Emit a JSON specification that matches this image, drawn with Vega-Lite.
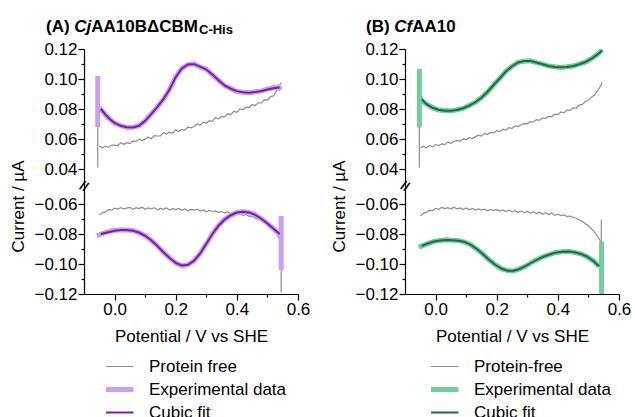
{
"$schema": "https://vega.github.io/schema/vega-lite/v6.json",
"autosize": {"type": "pad"},
"padding": {"left": 9, "top": 17, "right": 0, "bottom": 0},
"bounds": "flush",
"spacing": 107,
"config": {
  "font": "Liberation Sans",
  "view": {"stroke": null},
  "axis": {"grid": false, "labelOverlap": false, "domainColor": "#000", "tickColor": "#000", "labelColor": "#000", "titleColor": "#000", "labelFontSize": 17, "titleFontSize": 17, "titleFontWeight": "normal", "domainWidth": 1.2, "tickWidth": 1.2},
  "legend": {"labelFontSize": 17, "labelColor": "#000"}
},
"resolve": {"scale": {"color": "independent"}},
"hconcat": [
{
  "width": 214, "height": 245,
  "data": {"values": [
{"series":"Protein free","branch":"su","x":-0.055,"y":0.041},{"series":"Protein free","branch":"su","x":-0.055,"y":0.080},
{"series":"Protein free","branch":"sl","x":0.545,"y":-0.083},{"series":"Protein free","branch":"sl","x":0.545,"y":-0.119},
{"series":"Protein free","branch":"up","x":-0.05,"y":0.0553},{"series":"Protein free","branch":"up","x":-0.04,"y":0.0542},{"series":"Protein free","branch":"up","x":-0.03,"y":0.0553},{"series":"Protein free","branch":"up","x":-0.02,"y":0.0544},{"series":"Protein free","branch":"up","x":-0.01,"y":0.0560},{"series":"Protein free","branch":"up","x":0.0,"y":0.0559},{"series":"Protein free","branch":"up","x":0.01,"y":0.0555},{"series":"Protein free","branch":"up","x":0.02,"y":0.0575},{"series":"Protein free","branch":"up","x":0.03,"y":0.0565},{"series":"Protein free","branch":"up","x":0.04,"y":0.0575},{"series":"Protein free","branch":"up","x":0.05,"y":0.0569},{"series":"Protein free","branch":"up","x":0.06,"y":0.0587},{"series":"Protein free","branch":"up","x":0.07,"y":0.0582},{"series":"Protein free","branch":"up","x":0.08,"y":0.0599},{"series":"Protein free","branch":"up","x":0.09,"y":0.0590},{"series":"Protein free","branch":"up","x":0.10,"y":0.0599},{"series":"Protein free","branch":"up","x":0.11,"y":0.0613},{"series":"Protein free","branch":"up","x":0.12,"y":0.0602},{"series":"Protein free","branch":"up","x":0.13,"y":0.0622},{"series":"Protein free","branch":"up","x":0.14,"y":0.0620},{"series":"Protein free","branch":"up","x":0.15,"y":0.0620},{"series":"Protein free","branch":"up","x":0.16,"y":0.0642},{"series":"Protein free","branch":"up","x":0.17,"y":0.0633},{"series":"Protein free","branch":"up","x":0.18,"y":0.0646},{"series":"Protein free","branch":"up","x":0.19,"y":0.0639},{"series":"Protein free","branch":"up","x":0.20,"y":0.0661},{"series":"Protein free","branch":"up","x":0.21,"y":0.0650},{"series":"Protein free","branch":"up","x":0.22,"y":0.0664},{"series":"Protein free","branch":"up","x":0.23,"y":0.0659},{"series":"Protein free","branch":"up","x":0.24,"y":0.0680},{"series":"Protein free","branch":"up","x":0.25,"y":0.0675},{"series":"Protein free","branch":"up","x":0.26,"y":0.0683},{"series":"Protein free","branch":"up","x":0.27,"y":0.0700},{"series":"Protein free","branch":"up","x":0.28,"y":0.0691},{"series":"Protein free","branch":"up","x":0.29,"y":0.0712},{"series":"Protein free","branch":"up","x":0.30,"y":0.0706},{"series":"Protein free","branch":"up","x":0.31,"y":0.0722},{"series":"Protein free","branch":"up","x":0.32,"y":0.0718},{"series":"Protein free","branch":"up","x":0.33,"y":0.0743},{"series":"Protein free","branch":"up","x":0.34,"y":0.0735},{"series":"Protein free","branch":"up","x":0.35,"y":0.0749},{"series":"Protein free","branch":"up","x":0.36,"y":0.0748},{"series":"Protein free","branch":"up","x":0.37,"y":0.0769},{"series":"Protein free","branch":"up","x":0.38,"y":0.0762},{"series":"Protein free","branch":"up","x":0.39,"y":0.0785},{"series":"Protein free","branch":"up","x":0.40,"y":0.0778},{"series":"Protein free","branch":"up","x":0.41,"y":0.0801},{"series":"Protein free","branch":"up","x":0.42,"y":0.0795},{"series":"Protein free","branch":"up","x":0.43,"y":0.0814},{"series":"Protein free","branch":"up","x":0.44,"y":0.0810},{"series":"Protein free","branch":"up","x":0.45,"y":0.0830},{"series":"Protein free","branch":"up","x":0.46,"y":0.0823},{"series":"Protein free","branch":"up","x":0.47,"y":0.0841},{"series":"Protein free","branch":"up","x":0.48,"y":0.0840},{"series":"Protein free","branch":"up","x":0.49,"y":0.0862},{"series":"Protein free","branch":"up","x":0.50,"y":0.0860},{"series":"Protein free","branch":"up","x":0.51,"y":0.0883},{"series":"Protein free","branch":"up","x":0.52,"y":0.0887},{"series":"Protein free","branch":"up","x":0.53,"y":0.0925},{"series":"Protein free","branch":"up","x":0.54,"y":0.0958},{"series":"Protein free","branch":"up","x":0.545,"y":0.0975},
{"series":"Protein free","branch":"lo","x":-0.05,"y":-0.0674},{"series":"Protein free","branch":"lo","x":-0.04,"y":-0.0658},{"series":"Protein free","branch":"lo","x":-0.03,"y":-0.0653},{"series":"Protein free","branch":"lo","x":-0.02,"y":-0.0638},{"series":"Protein free","branch":"lo","x":-0.01,"y":-0.0641},{"series":"Protein free","branch":"lo","x":0.0,"y":-0.0628},{"series":"Protein free","branch":"lo","x":0.01,"y":-0.0634},{"series":"Protein free","branch":"lo","x":0.02,"y":-0.0624},{"series":"Protein free","branch":"lo","x":0.03,"y":-0.0633},{"series":"Protein free","branch":"lo","x":0.04,"y":-0.0627},{"series":"Protein free","branch":"lo","x":0.05,"y":-0.0622},{"series":"Protein free","branch":"lo","x":0.06,"y":-0.0636},{"series":"Protein free","branch":"lo","x":0.07,"y":-0.0625},{"series":"Protein free","branch":"lo","x":0.08,"y":-0.0631},{"series":"Protein free","branch":"lo","x":0.09,"y":-0.0621},{"series":"Protein free","branch":"lo","x":0.10,"y":-0.0635},{"series":"Protein free","branch":"lo","x":0.11,"y":-0.0626},{"series":"Protein free","branch":"lo","x":0.12,"y":-0.0633},{"series":"Protein free","branch":"lo","x":0.13,"y":-0.0624},{"series":"Protein free","branch":"lo","x":0.14,"y":-0.0638},{"series":"Protein free","branch":"lo","x":0.15,"y":-0.0629},{"series":"Protein free","branch":"lo","x":0.16,"y":-0.0636},{"series":"Protein free","branch":"lo","x":0.17,"y":-0.0627},{"series":"Protein free","branch":"lo","x":0.18,"y":-0.0640},{"series":"Protein free","branch":"lo","x":0.19,"y":-0.0631},{"series":"Protein free","branch":"lo","x":0.20,"y":-0.0637},{"series":"Protein free","branch":"lo","x":0.21,"y":-0.0630},{"series":"Protein free","branch":"lo","x":0.22,"y":-0.0642},{"series":"Protein free","branch":"lo","x":0.23,"y":-0.0633},{"series":"Protein free","branch":"lo","x":0.24,"y":-0.0645},{"series":"Protein free","branch":"lo","x":0.25,"y":-0.0636},{"series":"Protein free","branch":"lo","x":0.26,"y":-0.0641},{"series":"Protein free","branch":"lo","x":0.27,"y":-0.0635},{"series":"Protein free","branch":"lo","x":0.28,"y":-0.0647},{"series":"Protein free","branch":"lo","x":0.29,"y":-0.0640},{"series":"Protein free","branch":"lo","x":0.30,"y":-0.0652},{"series":"Protein free","branch":"lo","x":0.31,"y":-0.0643},{"series":"Protein free","branch":"lo","x":0.32,"y":-0.0650},{"series":"Protein free","branch":"lo","x":0.33,"y":-0.0646},{"series":"Protein free","branch":"lo","x":0.34,"y":-0.0657},{"series":"Protein free","branch":"lo","x":0.35,"y":-0.0649},{"series":"Protein free","branch":"lo","x":0.36,"y":-0.0661},{"series":"Protein free","branch":"lo","x":0.37,"y":-0.0652},{"series":"Protein free","branch":"lo","x":0.38,"y":-0.0665},{"series":"Protein free","branch":"lo","x":0.39,"y":-0.0658},{"series":"Protein free","branch":"lo","x":0.40,"y":-0.0670},{"series":"Protein free","branch":"lo","x":0.41,"y":-0.0663},{"series":"Protein free","branch":"lo","x":0.42,"y":-0.0676},{"series":"Protein free","branch":"lo","x":0.43,"y":-0.0669},{"series":"Protein free","branch":"lo","x":0.44,"y":-0.0683},{"series":"Protein free","branch":"lo","x":0.45,"y":-0.0680},{"series":"Protein free","branch":"lo","x":0.46,"y":-0.0695},{"series":"Protein free","branch":"lo","x":0.47,"y":-0.0697},{"series":"Protein free","branch":"lo","x":0.48,"y":-0.0712},{"series":"Protein free","branch":"lo","x":0.49,"y":-0.0718},{"series":"Protein free","branch":"lo","x":0.50,"y":-0.0735},{"series":"Protein free","branch":"lo","x":0.51,"y":-0.0748},{"series":"Protein free","branch":"lo","x":0.52,"y":-0.0770},{"series":"Protein free","branch":"lo","x":0.53,"y":-0.0792},{"series":"Protein free","branch":"lo","x":0.54,"y":-0.0835},
{"series":"Experimental data","branch":"su","x":-0.055,"y":0.068},{"series":"Experimental data","branch":"su","x":-0.055,"y":0.102},
{"series":"Experimental data","branch":"sl","x":0.545,"y":-0.068},{"series":"Experimental data","branch":"sl","x":0.545,"y":-0.104},
{"series":"Experimental data","branch":"up","x":-0.05,"y":0.0812},{"series":"Experimental data","branch":"up","x":-0.04,"y":0.0785},{"series":"Experimental data","branch":"up","x":-0.03,"y":0.0762},{"series":"Experimental data","branch":"up","x":-0.015,"y":0.0731},{"series":"Experimental data","branch":"up","x":0.0,"y":0.0706},{"series":"Experimental data","branch":"up","x":0.02,"y":0.0690},{"series":"Experimental data","branch":"up","x":0.04,"y":0.0676},{"series":"Experimental data","branch":"up","x":0.06,"y":0.0678},{"series":"Experimental data","branch":"up","x":0.08,"y":0.0688},{"series":"Experimental data","branch":"up","x":0.10,"y":0.0720},{"series":"Experimental data","branch":"up","x":0.12,"y":0.0767},{"series":"Experimental data","branch":"up","x":0.14,"y":0.0813},{"series":"Experimental data","branch":"up","x":0.16,"y":0.0866},{"series":"Experimental data","branch":"up","x":0.18,"y":0.0932},{"series":"Experimental data","branch":"up","x":0.20,"y":0.1014},{"series":"Experimental data","branch":"up","x":0.22,"y":0.1071},{"series":"Experimental data","branch":"up","x":0.24,"y":0.1096},{"series":"Experimental data","branch":"up","x":0.26,"y":0.1101},{"series":"Experimental data","branch":"up","x":0.28,"y":0.1079},{"series":"Experimental data","branch":"up","x":0.30,"y":0.1066},{"series":"Experimental data","branch":"up","x":0.32,"y":0.1028},{"series":"Experimental data","branch":"up","x":0.34,"y":0.0992},{"series":"Experimental data","branch":"up","x":0.36,"y":0.0955},{"series":"Experimental data","branch":"up","x":0.38,"y":0.0937},{"series":"Experimental data","branch":"up","x":0.40,"y":0.0916},{"series":"Experimental data","branch":"up","x":0.42,"y":0.0912},{"series":"Experimental data","branch":"up","x":0.44,"y":0.0908},{"series":"Experimental data","branch":"up","x":0.46,"y":0.0915},{"series":"Experimental data","branch":"up","x":0.48,"y":0.0919},{"series":"Experimental data","branch":"up","x":0.50,"y":0.0932},{"series":"Experimental data","branch":"up","x":0.52,"y":0.0943},{"series":"Experimental data","branch":"up","x":0.535,"y":0.0946},{"series":"Experimental data","branch":"up","x":0.545,"y":0.0930},
{"series":"Experimental data","branch":"lo","x":-0.058,"y":-0.0812},{"series":"Experimental data","branch":"lo","x":-0.045,"y":-0.0802},{"series":"Experimental data","branch":"lo","x":-0.03,"y":-0.0790},{"series":"Experimental data","branch":"lo","x":-0.015,"y":-0.0781},{"series":"Experimental data","branch":"lo","x":0.0,"y":-0.0777},{"series":"Experimental data","branch":"lo","x":0.02,"y":-0.0772},{"series":"Experimental data","branch":"lo","x":0.04,"y":-0.0774},{"series":"Experimental data","branch":"lo","x":0.06,"y":-0.0777},{"series":"Experimental data","branch":"lo","x":0.08,"y":-0.0791},{"series":"Experimental data","branch":"lo","x":0.10,"y":-0.0811},{"series":"Experimental data","branch":"lo","x":0.12,"y":-0.0843},{"series":"Experimental data","branch":"lo","x":0.14,"y":-0.0879},{"series":"Experimental data","branch":"lo","x":0.16,"y":-0.0923},{"series":"Experimental data","branch":"lo","x":0.18,"y":-0.0959},{"series":"Experimental data","branch":"lo","x":0.20,"y":-0.0993},{"series":"Experimental data","branch":"lo","x":0.22,"y":-0.1012},{"series":"Experimental data","branch":"lo","x":0.24,"y":-0.1004},{"series":"Experimental data","branch":"lo","x":0.26,"y":-0.0979},{"series":"Experimental data","branch":"lo","x":0.28,"y":-0.0929},{"series":"Experimental data","branch":"lo","x":0.30,"y":-0.0866},{"series":"Experimental data","branch":"lo","x":0.32,"y":-0.0798},{"series":"Experimental data","branch":"lo","x":0.34,"y":-0.0746},{"series":"Experimental data","branch":"lo","x":0.36,"y":-0.0702},{"series":"Experimental data","branch":"lo","x":0.38,"y":-0.0676},{"series":"Experimental data","branch":"lo","x":0.40,"y":-0.0656},{"series":"Experimental data","branch":"lo","x":0.42,"y":-0.0650},{"series":"Experimental data","branch":"lo","x":0.44,"y":-0.0657},{"series":"Experimental data","branch":"lo","x":0.46,"y":-0.0671},{"series":"Experimental data","branch":"lo","x":0.48,"y":-0.0699},{"series":"Experimental data","branch":"lo","x":0.50,"y":-0.0729},{"series":"Experimental data","branch":"lo","x":0.52,"y":-0.0766},{"series":"Experimental data","branch":"lo","x":0.54,"y":-0.0802},
{"series":"Cubic fit","branch":"up","x":-0.045,"y":0.0800},{"series":"Cubic fit","branch":"up","x":-0.03,"y":0.0762},{"series":"Cubic fit","branch":"up","x":-0.015,"y":0.0732},{"series":"Cubic fit","branch":"up","x":0.0,"y":0.0708},{"series":"Cubic fit","branch":"up","x":0.02,"y":0.0688},{"series":"Cubic fit","branch":"up","x":0.04,"y":0.0678},{"series":"Cubic fit","branch":"up","x":0.06,"y":0.0677},{"series":"Cubic fit","branch":"up","x":0.08,"y":0.0688},{"series":"Cubic fit","branch":"up","x":0.10,"y":0.0721},{"series":"Cubic fit","branch":"up","x":0.12,"y":0.0766},{"series":"Cubic fit","branch":"up","x":0.14,"y":0.0814},{"series":"Cubic fit","branch":"up","x":0.16,"y":0.0866},{"series":"Cubic fit","branch":"up","x":0.18,"y":0.0932},{"series":"Cubic fit","branch":"up","x":0.20,"y":0.1012},{"series":"Cubic fit","branch":"up","x":0.22,"y":0.1070},{"series":"Cubic fit","branch":"up","x":0.24,"y":0.1097},{"series":"Cubic fit","branch":"up","x":0.26,"y":0.1099},{"series":"Cubic fit","branch":"up","x":0.28,"y":0.1082},{"series":"Cubic fit","branch":"up","x":0.30,"y":0.1063},{"series":"Cubic fit","branch":"up","x":0.32,"y":0.1030},{"series":"Cubic fit","branch":"up","x":0.34,"y":0.0991},{"series":"Cubic fit","branch":"up","x":0.36,"y":0.0957},{"series":"Cubic fit","branch":"up","x":0.38,"y":0.0935},{"series":"Cubic fit","branch":"up","x":0.40,"y":0.0919},{"series":"Cubic fit","branch":"up","x":0.42,"y":0.0911},{"series":"Cubic fit","branch":"up","x":0.44,"y":0.0909},{"series":"Cubic fit","branch":"up","x":0.46,"y":0.0913},{"series":"Cubic fit","branch":"up","x":0.48,"y":0.0920},{"series":"Cubic fit","branch":"up","x":0.50,"y":0.0930},{"series":"Cubic fit","branch":"up","x":0.52,"y":0.0939},{"series":"Cubic fit","branch":"up","x":0.54,"y":0.0944},
{"series":"Cubic fit","branch":"lo","x":-0.045,"y":-0.0800},{"series":"Cubic fit","branch":"lo","x":-0.02,"y":-0.0788},{"series":"Cubic fit","branch":"lo","x":0.0,"y":-0.0778},{"series":"Cubic fit","branch":"lo","x":0.02,"y":-0.0773},{"series":"Cubic fit","branch":"lo","x":0.04,"y":-0.0773},{"series":"Cubic fit","branch":"lo","x":0.06,"y":-0.0778},{"series":"Cubic fit","branch":"lo","x":0.08,"y":-0.0790},{"series":"Cubic fit","branch":"lo","x":0.10,"y":-0.0812},{"series":"Cubic fit","branch":"lo","x":0.12,"y":-0.0842},{"series":"Cubic fit","branch":"lo","x":0.14,"y":-0.0880},{"series":"Cubic fit","branch":"lo","x":0.16,"y":-0.0922},{"series":"Cubic fit","branch":"lo","x":0.18,"y":-0.0960},{"series":"Cubic fit","branch":"lo","x":0.20,"y":-0.0992},{"series":"Cubic fit","branch":"lo","x":0.22,"y":-0.1010},{"series":"Cubic fit","branch":"lo","x":0.24,"y":-0.1005},{"series":"Cubic fit","branch":"lo","x":0.26,"y":-0.0978},{"series":"Cubic fit","branch":"lo","x":0.28,"y":-0.0930},{"series":"Cubic fit","branch":"lo","x":0.30,"y":-0.0865},{"series":"Cubic fit","branch":"lo","x":0.32,"y":-0.0800},{"series":"Cubic fit","branch":"lo","x":0.34,"y":-0.0745},{"series":"Cubic fit","branch":"lo","x":0.36,"y":-0.0703},{"series":"Cubic fit","branch":"lo","x":0.38,"y":-0.0675},{"series":"Cubic fit","branch":"lo","x":0.40,"y":-0.0657},{"series":"Cubic fit","branch":"lo","x":0.42,"y":-0.0651},{"series":"Cubic fit","branch":"lo","x":0.44,"y":-0.0656},{"series":"Cubic fit","branch":"lo","x":0.46,"y":-0.0672},{"series":"Cubic fit","branch":"lo","x":0.48,"y":-0.0698},{"series":"Cubic fit","branch":"lo","x":0.50,"y":-0.0730},{"series":"Cubic fit","branch":"lo","x":0.52,"y":-0.0765},{"series":"Cubic fit","branch":"lo","x":0.54,"y":-0.0800}
  ]},
  "layer": [
    {"transform": [{"filter": {"field": "series", "equal": "Protein free"}}],
     "mark": {"type": "line", "clip": true, "strokeWidth": 1.2},
     "encoding": {
       "x": {"field": "x", "type": "quantitative",
         "scale": {"domain": [-0.1, 0.6], "nice": false, "zero": false},
         "axis": {"title": "Potential / V vs SHE", "values": [0, 0.1, 0.2, 0.3, 0.4, 0.5, 0.6], "tickCount": 100, "labelOverlap": false,
           "labelExpr": "abs(round(datum.value*10))%2==1 ? '' : format(datum.value, '.1f')",
           "tickSize": {"condition": {"test": "abs(round(datum.value*10))%2==1", "value": 3}, "value": 6},
           "labelPadding": 1, "titlePadding": 11, "labelFlush": false}},
       "y": {"field": "y", "type": "quantitative",
         "scale": {"domain": [-0.12, -0.05, 0.03, 0.12], "range": [245, 140, 135, 0], "nice": false, "zero": false},
         "axis": {"title": "Current / µA", "values": [-0.12, -0.11, -0.1, -0.09, -0.08, -0.07, -0.06, 0.04, 0.05, 0.06, 0.07, 0.08, 0.09, 0.1, 0.11, 0.12], "tickCount": 100, "labelOverlap": false,
           "labelExpr": "abs(round(datum.value*100))%2==1 ? '' : format(datum.value, '.2f')",
           "tickSize": {"condition": {"test": "abs(round(datum.value*100))%2==1", "value": 3}, "value": 6},
           "labelPadding": 1, "titleX": -66, "titleY": 157, "titleAngle": -90, "titleAlign": "center", "titleBaseline": "middle"}},
       "detail": {"field": "branch"},
       "color": {"field": "series", "type": "nominal", "scale": {"domain": ["Protein free", "Experimental data", "Cubic fit"], "range": ["#8c8c8c", "#c9a0ec", "#7a1ea1"]},
         "legend": {"orient": "none", "legendX": 22, "legendY": 309, "columns": 1, "title": null, "symbolType": "stroke", "symbolSize": 1444, "clipHeight": 17, "labelOffset": 26, "rowPadding": 5, "padding": 0,
           "encode": {"symbols": {"update": {"strokeWidth": {"signal": "datum.value === 'Experimental data' ? 5 : datum.value === 'Cubic fit' ? 2 : 1.2"}}}}}}}},
    {"transform": [{"filter": {"field": "series", "equal": "Experimental data"}}],
     "mark": {"type": "line", "clip": true, "strokeWidth": 5},
     "encoding": {"x": {"field": "x", "type": "quantitative"}, "y": {"field": "y", "type": "quantitative"}, "detail": {"field": "branch"}, "color": {"field": "series", "type": "nominal"}}},
    {"transform": [{"filter": {"field": "series", "equal": "Cubic fit"}}],
     "mark": {"type": "line", "clip": true, "strokeWidth": 2},
     "encoding": {"x": {"field": "x", "type": "quantitative"}, "y": {"field": "y", "type": "quantitative"}, "detail": {"field": "branch"}, "color": {"field": "series", "type": "nominal"}}},
    {"data": {"values": [{}]}, "mark": {"type": "text", "text": "//", "fontSize": 13, "fontWeight": "bold", "angle": 25, "align": "center", "baseline": "middle", "color": "#000"},
     "encoding": {"x": {"datum": -0.1}, "y": {"datum": -0.01}}},
    {"data": {"values": [{}]}, "mark": {"type": "text", "text": "(A) ", "align": "left", "baseline": "alphabetic", "dx": -38, "fontSize": 17, "fontWeight": "bold", "color": "#000"},
     "encoding": {"x": {"datum": -0.1}, "y": {"datum": 0.1315}}},
    {"data": {"values": [{}]}, "mark": {"type": "text", "text": "Cj", "align": "left", "baseline": "alphabetic", "dx": -9.7, "fontSize": 17, "fontWeight": "bold", "fontStyle": "italic", "color": "#000"},
     "encoding": {"x": {"datum": -0.1}, "y": {"datum": 0.1315}}},
    {"data": {"values": [{}]}, "mark": {"type": "text", "text": "AA10BΔCBM", "align": "left", "baseline": "alphabetic", "dx": 7.3, "fontSize": 17, "fontWeight": "bold", "color": "#000"},
     "encoding": {"x": {"datum": -0.1}, "y": {"datum": 0.1315}}},
    {"data": {"values": [{}]}, "mark": {"type": "text", "text": "C-His", "align": "left", "baseline": "alphabetic", "dx": 115, "fontSize": 13, "fontWeight": "bold", "color": "#000"},
     "encoding": {"x": {"datum": -0.1}, "y": {"datum": 0.1299}}}
  ]
},
{
  "width": 214, "height": 245,
  "data": {"values": [
{"series":"Protein-free","branch":"su","x":-0.053,"y":0.041},{"series":"Protein-free","branch":"su","x":-0.053,"y":0.080},
{"series":"Protein-free","branch":"sl","x":0.542,"y":-0.0705},{"series":"Protein-free","branch":"sl","x":0.542,"y":-0.086},
{"series":"Protein-free","branch":"up","x":-0.05,"y":0.0540},{"series":"Protein-free","branch":"up","x":-0.04,"y":0.0552},{"series":"Protein-free","branch":"up","x":-0.03,"y":0.0541},{"series":"Protein-free","branch":"up","x":-0.02,"y":0.0556},{"series":"Protein-free","branch":"up","x":-0.01,"y":0.0549},{"series":"Protein-free","branch":"up","x":0.0,"y":0.0563},{"series":"Protein-free","branch":"up","x":0.01,"y":0.0556},{"series":"Protein-free","branch":"up","x":0.02,"y":0.0568},{"series":"Protein-free","branch":"up","x":0.03,"y":0.0562},{"series":"Protein-free","branch":"up","x":0.04,"y":0.0579},{"series":"Protein-free","branch":"up","x":0.05,"y":0.0571},{"series":"Protein-free","branch":"up","x":0.06,"y":0.0583},{"series":"Protein-free","branch":"up","x":0.07,"y":0.0590},{"series":"Protein-free","branch":"up","x":0.08,"y":0.0584},{"series":"Protein-free","branch":"up","x":0.09,"y":0.0601},{"series":"Protein-free","branch":"up","x":0.10,"y":0.0596},{"series":"Protein-free","branch":"up","x":0.11,"y":0.0609},{"series":"Protein-free","branch":"up","x":0.12,"y":0.0605},{"series":"Protein-free","branch":"up","x":0.13,"y":0.0614},{"series":"Protein-free","branch":"up","x":0.14,"y":0.0625},{"series":"Protein-free","branch":"up","x":0.15,"y":0.0619},{"series":"Protein-free","branch":"up","x":0.16,"y":0.0637},{"series":"Protein-free","branch":"up","x":0.17,"y":0.0630},{"series":"Protein-free","branch":"up","x":0.18,"y":0.0644},{"series":"Protein-free","branch":"up","x":0.19,"y":0.0641},{"series":"Protein-free","branch":"up","x":0.20,"y":0.0655},{"series":"Protein-free","branch":"up","x":0.21,"y":0.0649},{"series":"Protein-free","branch":"up","x":0.22,"y":0.0666},{"series":"Protein-free","branch":"up","x":0.23,"y":0.0660},{"series":"Protein-free","branch":"up","x":0.24,"y":0.0676},{"series":"Protein-free","branch":"up","x":0.25,"y":0.0671},{"series":"Protein-free","branch":"up","x":0.26,"y":0.0687},{"series":"Protein-free","branch":"up","x":0.27,"y":0.0683},{"series":"Protein-free","branch":"up","x":0.28,"y":0.0697},{"series":"Protein-free","branch":"up","x":0.29,"y":0.0702},{"series":"Protein-free","branch":"up","x":0.30,"y":0.0701},{"series":"Protein-free","branch":"up","x":0.31,"y":0.0716},{"series":"Protein-free","branch":"up","x":0.32,"y":0.0713},{"series":"Protein-free","branch":"up","x":0.33,"y":0.0729},{"series":"Protein-free","branch":"up","x":0.34,"y":0.0725},{"series":"Protein-free","branch":"up","x":0.35,"y":0.0740},{"series":"Protein-free","branch":"up","x":0.36,"y":0.0738},{"series":"Protein-free","branch":"up","x":0.37,"y":0.0752},{"series":"Protein-free","branch":"up","x":0.38,"y":0.0748},{"series":"Protein-free","branch":"up","x":0.39,"y":0.0766},{"series":"Protein-free","branch":"up","x":0.40,"y":0.0762},{"series":"Protein-free","branch":"up","x":0.41,"y":0.0780},{"series":"Protein-free","branch":"up","x":0.42,"y":0.0774},{"series":"Protein-free","branch":"up","x":0.43,"y":0.0794},{"series":"Protein-free","branch":"up","x":0.44,"y":0.0790},{"series":"Protein-free","branch":"up","x":0.45,"y":0.0809},{"series":"Protein-free","branch":"up","x":0.46,"y":0.0805},{"series":"Protein-free","branch":"up","x":0.47,"y":0.0826},{"series":"Protein-free","branch":"up","x":0.48,"y":0.0831},{"series":"Protein-free","branch":"up","x":0.49,"y":0.0850},{"series":"Protein-free","branch":"up","x":0.50,"y":0.0858},{"series":"Protein-free","branch":"up","x":0.51,"y":0.0879},{"series":"Protein-free","branch":"up","x":0.52,"y":0.0893},{"series":"Protein-free","branch":"up","x":0.53,"y":0.0921},{"series":"Protein-free","branch":"up","x":0.54,"y":0.0955},{"series":"Protein-free","branch":"up","x":0.545,"y":0.0978},
{"series":"Protein-free","branch":"lo","x":-0.05,"y":-0.0678},{"series":"Protein-free","branch":"lo","x":-0.04,"y":-0.0662},{"series":"Protein-free","branch":"lo","x":-0.03,"y":-0.0656},{"series":"Protein-free","branch":"lo","x":-0.02,"y":-0.0641},{"series":"Protein-free","branch":"lo","x":-0.01,"y":-0.0644},{"series":"Protein-free","branch":"lo","x":0.0,"y":-0.0630},{"series":"Protein-free","branch":"lo","x":0.01,"y":-0.0636},{"series":"Protein-free","branch":"lo","x":0.02,"y":-0.0623},{"series":"Protein-free","branch":"lo","x":0.03,"y":-0.0631},{"series":"Protein-free","branch":"lo","x":0.04,"y":-0.0624},{"series":"Protein-free","branch":"lo","x":0.05,"y":-0.0634},{"series":"Protein-free","branch":"lo","x":0.06,"y":-0.0622},{"series":"Protein-free","branch":"lo","x":0.07,"y":-0.0632},{"series":"Protein-free","branch":"lo","x":0.08,"y":-0.0626},{"series":"Protein-free","branch":"lo","x":0.09,"y":-0.0637},{"series":"Protein-free","branch":"lo","x":0.10,"y":-0.0627},{"series":"Protein-free","branch":"lo","x":0.11,"y":-0.0639},{"series":"Protein-free","branch":"lo","x":0.12,"y":-0.0630},{"series":"Protein-free","branch":"lo","x":0.13,"y":-0.0641},{"series":"Protein-free","branch":"lo","x":0.14,"y":-0.0633},{"series":"Protein-free","branch":"lo","x":0.15,"y":-0.0640},{"series":"Protein-free","branch":"lo","x":0.16,"y":-0.0634},{"series":"Protein-free","branch":"lo","x":0.17,"y":-0.0645},{"series":"Protein-free","branch":"lo","x":0.18,"y":-0.0636},{"series":"Protein-free","branch":"lo","x":0.19,"y":-0.0643},{"series":"Protein-free","branch":"lo","x":0.20,"y":-0.0638},{"series":"Protein-free","branch":"lo","x":0.21,"y":-0.0647},{"series":"Protein-free","branch":"lo","x":0.22,"y":-0.0639},{"series":"Protein-free","branch":"lo","x":0.23,"y":-0.0650},{"series":"Protein-free","branch":"lo","x":0.24,"y":-0.0642},{"series":"Protein-free","branch":"lo","x":0.25,"y":-0.0653},{"series":"Protein-free","branch":"lo","x":0.26,"y":-0.0644},{"series":"Protein-free","branch":"lo","x":0.27,"y":-0.0655},{"series":"Protein-free","branch":"lo","x":0.28,"y":-0.0647},{"series":"Protein-free","branch":"lo","x":0.29,"y":-0.0658},{"series":"Protein-free","branch":"lo","x":0.30,"y":-0.0650},{"series":"Protein-free","branch":"lo","x":0.31,"y":-0.0661},{"series":"Protein-free","branch":"lo","x":0.32,"y":-0.0652},{"series":"Protein-free","branch":"lo","x":0.33,"y":-0.0664},{"series":"Protein-free","branch":"lo","x":0.34,"y":-0.0655},{"series":"Protein-free","branch":"lo","x":0.35,"y":-0.0667},{"series":"Protein-free","branch":"lo","x":0.36,"y":-0.0658},{"series":"Protein-free","branch":"lo","x":0.37,"y":-0.0671},{"series":"Protein-free","branch":"lo","x":0.38,"y":-0.0662},{"series":"Protein-free","branch":"lo","x":0.39,"y":-0.0676},{"series":"Protein-free","branch":"lo","x":0.40,"y":-0.0668},{"series":"Protein-free","branch":"lo","x":0.41,"y":-0.0678},{"series":"Protein-free","branch":"lo","x":0.42,"y":-0.0672},{"series":"Protein-free","branch":"lo","x":0.43,"y":-0.0684},{"series":"Protein-free","branch":"lo","x":0.44,"y":-0.0680},{"series":"Protein-free","branch":"lo","x":0.45,"y":-0.0688},{"series":"Protein-free","branch":"lo","x":0.46,"y":-0.0695},{"series":"Protein-free","branch":"lo","x":0.47,"y":-0.0707},{"series":"Protein-free","branch":"lo","x":0.48,"y":-0.0717},{"series":"Protein-free","branch":"lo","x":0.49,"y":-0.0731},{"series":"Protein-free","branch":"lo","x":0.50,"y":-0.0745},{"series":"Protein-free","branch":"lo","x":0.51,"y":-0.0766},{"series":"Protein-free","branch":"lo","x":0.52,"y":-0.0788},{"series":"Protein-free","branch":"lo","x":0.53,"y":-0.0815},{"series":"Protein-free","branch":"lo","x":0.54,"y":-0.0850},
{"series":"Experimental data","branch":"su","x":-0.053,"y":0.0677},{"series":"Experimental data","branch":"su","x":-0.053,"y":0.1067},
{"series":"Experimental data","branch":"sl","x":0.543,"y":-0.085},{"series":"Experimental data","branch":"sl","x":0.543,"y":-0.13},
{"series":"Experimental data","branch":"up","x":-0.05,"y":0.0868},{"series":"Experimental data","branch":"up","x":-0.04,"y":0.0848},{"series":"Experimental data","branch":"up","x":-0.03,"y":0.0834},{"series":"Experimental data","branch":"up","x":-0.01,"y":0.0809},{"series":"Experimental data","branch":"up","x":0.01,"y":0.0793},{"series":"Experimental data","branch":"up","x":0.03,"y":0.0790},{"series":"Experimental data","branch":"up","x":0.05,"y":0.0787},{"series":"Experimental data","branch":"up","x":0.07,"y":0.0795},{"series":"Experimental data","branch":"up","x":0.09,"y":0.0804},{"series":"Experimental data","branch":"up","x":0.11,"y":0.0823},{"series":"Experimental data","branch":"up","x":0.13,"y":0.0844},{"series":"Experimental data","branch":"up","x":0.15,"y":0.0876},{"series":"Experimental data","branch":"up","x":0.17,"y":0.0913},{"series":"Experimental data","branch":"up","x":0.19,"y":0.0961},{"series":"Experimental data","branch":"up","x":0.21,"y":0.1004},{"series":"Experimental data","branch":"up","x":0.23,"y":0.1052},{"series":"Experimental data","branch":"up","x":0.25,"y":0.1084},{"series":"Experimental data","branch":"up","x":0.27,"y":0.1111},{"series":"Experimental data","branch":"up","x":0.29,"y":0.1119},{"series":"Experimental data","branch":"up","x":0.31,"y":0.1121},{"series":"Experimental data","branch":"up","x":0.33,"y":0.1109},{"series":"Experimental data","branch":"up","x":0.35,"y":0.1099},{"series":"Experimental data","branch":"up","x":0.37,"y":0.1086},{"series":"Experimental data","branch":"up","x":0.39,"y":0.1081},{"series":"Experimental data","branch":"up","x":0.41,"y":0.1077},{"series":"Experimental data","branch":"up","x":0.43,"y":0.1081},{"series":"Experimental data","branch":"up","x":0.45,"y":0.1086},{"series":"Experimental data","branch":"up","x":0.47,"y":0.1099},{"series":"Experimental data","branch":"up","x":0.49,"y":0.1112},{"series":"Experimental data","branch":"up","x":0.51,"y":0.1136},{"series":"Experimental data","branch":"up","x":0.53,"y":0.1164},{"series":"Experimental data","branch":"up","x":0.545,"y":0.1195},
{"series":"Experimental data","branch":"lo","x":-0.055,"y":-0.0888},{"series":"Experimental data","branch":"lo","x":-0.045,"y":-0.0879},{"series":"Experimental data","branch":"lo","x":-0.025,"y":-0.0864},{"series":"Experimental data","branch":"lo","x":-0.005,"y":-0.0849},{"series":"Experimental data","branch":"lo","x":0.015,"y":-0.0844},{"series":"Experimental data","branch":"lo","x":0.035,"y":-0.0839},{"series":"Experimental data","branch":"lo","x":0.055,"y":-0.0842},{"series":"Experimental data","branch":"lo","x":0.075,"y":-0.0844},{"series":"Experimental data","branch":"lo","x":0.095,"y":-0.0854},{"series":"Experimental data","branch":"lo","x":0.115,"y":-0.0871},{"series":"Experimental data","branch":"lo","x":0.135,"y":-0.0901},{"series":"Experimental data","branch":"lo","x":0.155,"y":-0.0934},{"series":"Experimental data","branch":"lo","x":0.175,"y":-0.0973},{"series":"Experimental data","branch":"lo","x":0.195,"y":-0.1004},{"series":"Experimental data","branch":"lo","x":0.215,"y":-0.1031},{"series":"Experimental data","branch":"lo","x":0.235,"y":-0.1044},{"series":"Experimental data","branch":"lo","x":0.255,"y":-0.1046},{"series":"Experimental data","branch":"lo","x":0.275,"y":-0.1032},{"series":"Experimental data","branch":"lo","x":0.295,"y":-0.1014},{"series":"Experimental data","branch":"lo","x":0.315,"y":-0.0989},{"series":"Experimental data","branch":"lo","x":0.335,"y":-0.0969},{"series":"Experimental data","branch":"lo","x":0.355,"y":-0.0949},{"series":"Experimental data","branch":"lo","x":0.375,"y":-0.0936},{"series":"Experimental data","branch":"lo","x":0.395,"y":-0.0923},{"series":"Experimental data","branch":"lo","x":0.415,"y":-0.0919},{"series":"Experimental data","branch":"lo","x":0.435,"y":-0.0916},{"series":"Experimental data","branch":"lo","x":0.455,"y":-0.0923},{"series":"Experimental data","branch":"lo","x":0.475,"y":-0.0932},{"series":"Experimental data","branch":"lo","x":0.495,"y":-0.0951},{"series":"Experimental data","branch":"lo","x":0.515,"y":-0.0977},{"series":"Experimental data","branch":"lo","x":0.535,"y":-0.1016},
{"series":"Cubic fit","branch":"up","x":-0.045,"y":0.0865},{"series":"Cubic fit","branch":"up","x":-0.03,"y":0.0832},{"series":"Cubic fit","branch":"up","x":-0.01,"y":0.0808},{"series":"Cubic fit","branch":"up","x":0.01,"y":0.0795},{"series":"Cubic fit","branch":"up","x":0.03,"y":0.0789},{"series":"Cubic fit","branch":"up","x":0.05,"y":0.0789},{"series":"Cubic fit","branch":"up","x":0.07,"y":0.0794},{"series":"Cubic fit","branch":"up","x":0.09,"y":0.0805},{"series":"Cubic fit","branch":"up","x":0.11,"y":0.0822},{"series":"Cubic fit","branch":"up","x":0.13,"y":0.0845},{"series":"Cubic fit","branch":"up","x":0.15,"y":0.0875},{"series":"Cubic fit","branch":"up","x":0.17,"y":0.0915},{"series":"Cubic fit","branch":"up","x":0.19,"y":0.0960},{"series":"Cubic fit","branch":"up","x":0.21,"y":0.1005},{"series":"Cubic fit","branch":"up","x":0.23,"y":0.1050},{"series":"Cubic fit","branch":"up","x":0.25,"y":0.1085},{"series":"Cubic fit","branch":"up","x":0.27,"y":0.1110},{"series":"Cubic fit","branch":"up","x":0.29,"y":0.1120},{"series":"Cubic fit","branch":"up","x":0.31,"y":0.1120},{"series":"Cubic fit","branch":"up","x":0.33,"y":0.1110},{"series":"Cubic fit","branch":"up","x":0.35,"y":0.1098},{"series":"Cubic fit","branch":"up","x":0.37,"y":0.1087},{"series":"Cubic fit","branch":"up","x":0.39,"y":0.1080},{"series":"Cubic fit","branch":"up","x":0.41,"y":0.1078},{"series":"Cubic fit","branch":"up","x":0.43,"y":0.1080},{"series":"Cubic fit","branch":"up","x":0.45,"y":0.1087},{"series":"Cubic fit","branch":"up","x":0.47,"y":0.1098},{"series":"Cubic fit","branch":"up","x":0.49,"y":0.1113},{"series":"Cubic fit","branch":"up","x":0.51,"y":0.1135},{"series":"Cubic fit","branch":"up","x":0.53,"y":0.1165},{"series":"Cubic fit","branch":"up","x":0.545,"y":0.1190},
{"series":"Cubic fit","branch":"lo","x":-0.045,"y":-0.0880},{"series":"Cubic fit","branch":"lo","x":-0.025,"y":-0.0863},{"series":"Cubic fit","branch":"lo","x":-0.005,"y":-0.0850},{"series":"Cubic fit","branch":"lo","x":0.015,"y":-0.0843},{"series":"Cubic fit","branch":"lo","x":0.035,"y":-0.0840},{"series":"Cubic fit","branch":"lo","x":0.055,"y":-0.0841},{"series":"Cubic fit","branch":"lo","x":0.075,"y":-0.0845},{"series":"Cubic fit","branch":"lo","x":0.095,"y":-0.0853},{"series":"Cubic fit","branch":"lo","x":0.115,"y":-0.0872},{"series":"Cubic fit","branch":"lo","x":0.135,"y":-0.0900},{"series":"Cubic fit","branch":"lo","x":0.155,"y":-0.0935},{"series":"Cubic fit","branch":"lo","x":0.175,"y":-0.0972},{"series":"Cubic fit","branch":"lo","x":0.195,"y":-0.1005},{"series":"Cubic fit","branch":"lo","x":0.215,"y":-0.1030},{"series":"Cubic fit","branch":"lo","x":0.235,"y":-0.1045},{"series":"Cubic fit","branch":"lo","x":0.255,"y":-0.1045},{"series":"Cubic fit","branch":"lo","x":0.275,"y":-0.1033},{"series":"Cubic fit","branch":"lo","x":0.295,"y":-0.1013},{"series":"Cubic fit","branch":"lo","x":0.315,"y":-0.0990},{"series":"Cubic fit","branch":"lo","x":0.335,"y":-0.0968},{"series":"Cubic fit","branch":"lo","x":0.355,"y":-0.0950},{"series":"Cubic fit","branch":"lo","x":0.375,"y":-0.0935},{"series":"Cubic fit","branch":"lo","x":0.395,"y":-0.0924},{"series":"Cubic fit","branch":"lo","x":0.415,"y":-0.0918},{"series":"Cubic fit","branch":"lo","x":0.435,"y":-0.0917},{"series":"Cubic fit","branch":"lo","x":0.455,"y":-0.0922},{"series":"Cubic fit","branch":"lo","x":0.475,"y":-0.0933},{"series":"Cubic fit","branch":"lo","x":0.495,"y":-0.0950},{"series":"Cubic fit","branch":"lo","x":0.515,"y":-0.0978},{"series":"Cubic fit","branch":"lo","x":0.535,"y":-0.1015}
  ]},
  "layer": [
    {"transform": [{"filter": {"field": "series", "equal": "Protein-free"}}],
     "mark": {"type": "line", "clip": true, "strokeWidth": 1.2},
     "encoding": {
       "x": {"field": "x", "type": "quantitative",
         "scale": {"domain": [-0.1, 0.6], "nice": false, "zero": false},
         "axis": {"title": "Potential / V vs SHE", "values": [0, 0.1, 0.2, 0.3, 0.4, 0.5, 0.6], "tickCount": 100, "labelOverlap": false,
           "labelExpr": "abs(round(datum.value*10))%2==1 ? '' : format(datum.value, '.1f')",
           "tickSize": {"condition": {"test": "abs(round(datum.value*10))%2==1", "value": 3}, "value": 6},
           "labelPadding": 1, "titlePadding": 11, "labelFlush": false}},
       "y": {"field": "y", "type": "quantitative",
         "scale": {"domain": [-0.12, -0.05, 0.03, 0.12], "range": [245, 140, 135, 0], "nice": false, "zero": false},
         "axis": {"title": "Current / µA", "values": [-0.12, -0.11, -0.1, -0.09, -0.08, -0.07, -0.06, 0.04, 0.05, 0.06, 0.07, 0.08, 0.09, 0.1, 0.11, 0.12], "tickCount": 100, "labelOverlap": false,
           "labelExpr": "abs(round(datum.value*100))%2==1 ? '' : format(datum.value, '.2f')",
           "tickSize": {"condition": {"test": "abs(round(datum.value*100))%2==1", "value": 3}, "value": 6},
           "labelPadding": 1, "titleX": -66, "titleY": 157, "titleAngle": -90, "titleAlign": "center", "titleBaseline": "middle"}},
       "detail": {"field": "branch"},
       "color": {"field": "series", "type": "nominal", "scale": {"domain": ["Protein-free", "Experimental data", "Cubic fit"], "range": ["#8c8c8c", "#72cc9c", "#1f6b42"]},
         "legend": {"orient": "none", "legendX": 26, "legendY": 309, "columns": 1, "title": null, "symbolType": "stroke", "symbolSize": 1444, "clipHeight": 17, "labelOffset": 26, "rowPadding": 5, "padding": 0,
           "encode": {"symbols": {"update": {"strokeWidth": {"signal": "datum.value === 'Experimental data' ? 5 : datum.value === 'Cubic fit' ? 2 : 1.2"}}}}}}}},
    {"transform": [{"filter": {"field": "series", "equal": "Experimental data"}}],
     "mark": {"type": "line", "clip": true, "strokeWidth": 5},
     "encoding": {"x": {"field": "x", "type": "quantitative"}, "y": {"field": "y", "type": "quantitative"}, "detail": {"field": "branch"}, "color": {"field": "series", "type": "nominal"}}},
    {"transform": [{"filter": {"field": "series", "equal": "Cubic fit"}}],
     "mark": {"type": "line", "clip": true, "strokeWidth": 2},
     "encoding": {"x": {"field": "x", "type": "quantitative"}, "y": {"field": "y", "type": "quantitative"}, "detail": {"field": "branch"}, "color": {"field": "series", "type": "nominal"}}},
    {"data": {"values": [{}]}, "mark": {"type": "text", "text": "//", "fontSize": 13, "fontWeight": "bold", "angle": 25, "align": "center", "baseline": "middle", "color": "#000"},
     "encoding": {"x": {"datum": -0.1}, "y": {"datum": -0.01}}},
    {"data": {"values": [{}]}, "mark": {"type": "text", "text": "(B) ", "align": "left", "baseline": "alphabetic", "dx": -39, "fontSize": 17, "fontWeight": "bold", "color": "#000"},
     "encoding": {"x": {"datum": -0.1}, "y": {"datum": 0.1315}}},
    {"data": {"values": [{}]}, "mark": {"type": "text", "text": "Cf", "align": "left", "baseline": "alphabetic", "dx": -10.7, "fontSize": 17, "fontWeight": "bold", "fontStyle": "italic", "color": "#000"},
     "encoding": {"x": {"datum": -0.1}, "y": {"datum": 0.1315}}},
    {"data": {"values": [{}]}, "mark": {"type": "text", "text": "AA10", "align": "left", "baseline": "alphabetic", "dx": 7.2, "fontSize": 17, "fontWeight": "bold", "color": "#000"},
     "encoding": {"x": {"datum": -0.1}, "y": {"datum": 0.1315}}}
  ]
}
]
}
